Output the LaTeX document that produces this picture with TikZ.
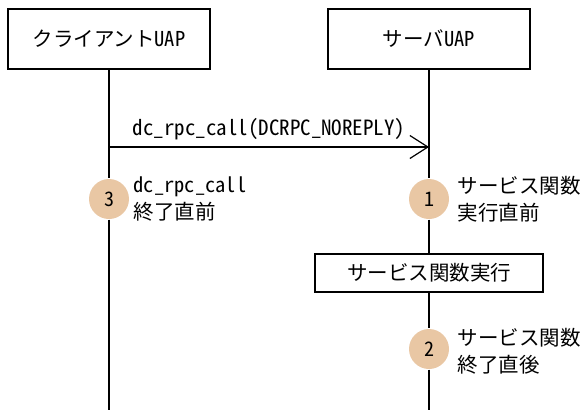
\documentclass[tikz,border=0pt]{standalone}
\usepackage{fontspec}
\setmainfont{Noto Sans CJK JP}
\newfontfamily\hwfont{Noto Sans CJK JP}[RawFeature=+hwid]
\usetikzlibrary{calc,positioning,arrows.meta}
\definecolor{pointfill}{RGB}{233,199,164}

\begin{document}
\begin{tikzpicture}[
                x=1pt, y=-1pt,
                line width=1.2pt,
                every node/.append style={font=\fontsize{20.5}{27}\selectfont},
                actor/.style={draw,minimum width=202pt,minimum height=60pt,inner sep=0pt},
                stepbox/.style={draw,minimum width=228pt,minimum height=38pt,inner sep=0pt,fill=white},
                point/.style={circle,fill=pointfill,minimum size=40pt,inner sep=0pt,font=\hwfont\fontsize{20}{20}\selectfont},
                note/.style={align=left,inner sep=0pt,anchor=west},
                msg/.style={-{Straight Barb[length=18pt,width=23pt]}}
            ]
                \useasboundingbox (0,0) rectangle (587,410);
                \node[actor] (C) at (109,39)  {クライアント{\hwfont UAP}};
                \node[actor] (S) at (429,39)  {サーバ{\hwfont UAP}};
                \coordinate (CE) at (C |- 0,410);
                \coordinate (SE) at (S |- 0,410);
                \node[point]   (P3) at (C |- 0,199) {3};
                \node[point]   (P1) at (S |- 0,199) {1};
                \node[stepbox] (X)  at (S |- 0,273) {サービス関数実行};
                \node[point]   (P2) at (S |- 0,349) {2};
                \draw (C) -- (P3) -- (CE);
                \draw (S) -- (P1) -- (X) -- (P2) -- (SE);
                \coordinate (MA) at (C |- 0,147);
                \coordinate (MB) at (S |- 0,147);
                \draw[msg] (MA) -- node[above=6pt,inner sep=0pt,font=\hwfont\fontsize{21}{27}\selectfont] (ML) {dc\_rpc\_call(DCRPC\_NOREPLY)} (MB);
                \node[note] (N3) at (133,199) {{\hwfont dc\_rpc\_call}\\終了直前};
                \node[note] (N1) at (457,199) {サービス関数\\実行直前};
                \node[note] (N2) at (457,351) {サービス関数\\終了直後};
            \end{tikzpicture}
\end{document}
